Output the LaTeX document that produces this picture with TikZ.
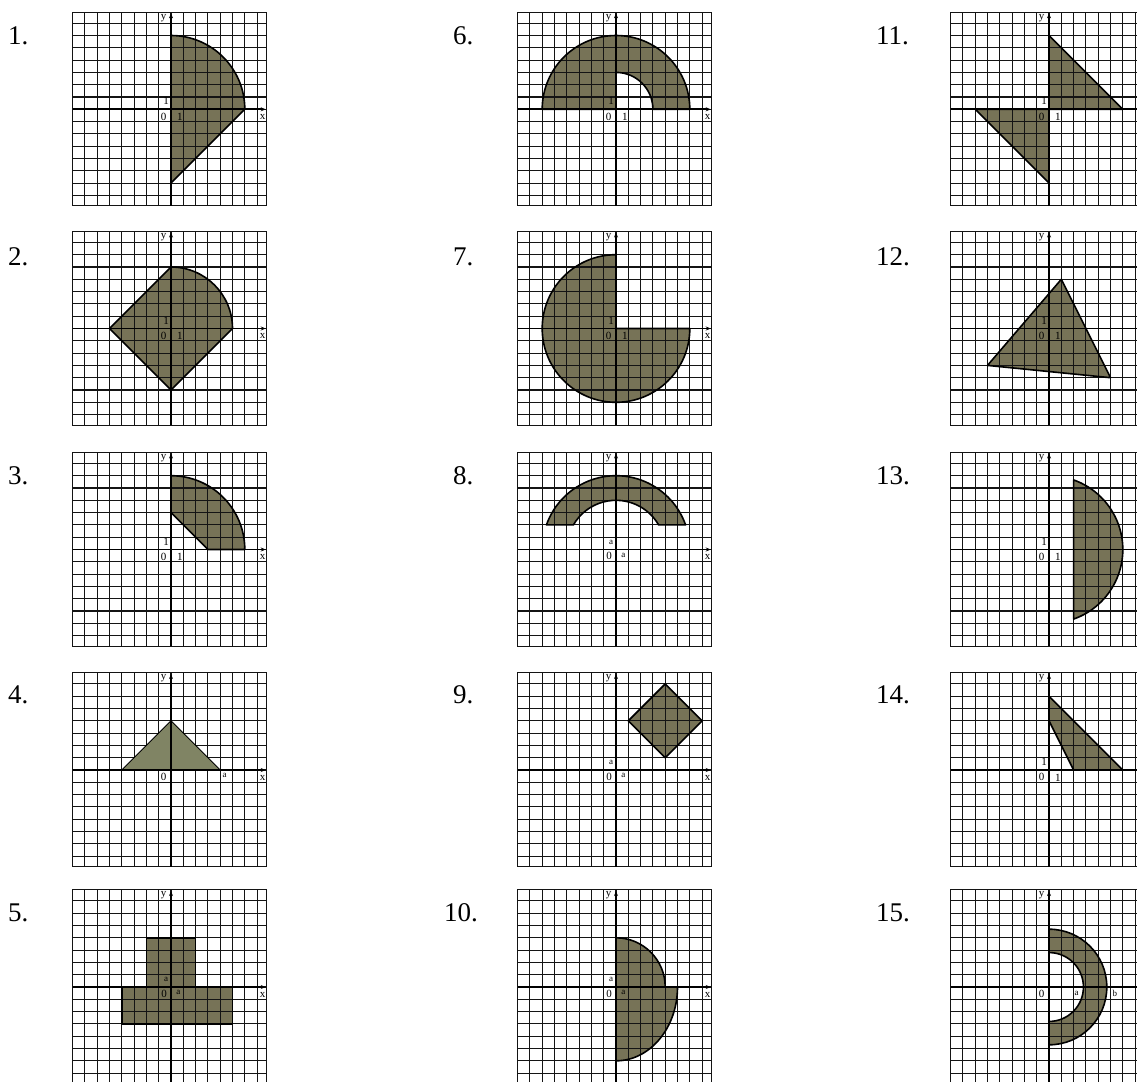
\documentclass[tikz,border=0pt]{standalone}
\usepackage{fontspec}
\setmainfont{Liberation Serif}
\usetikzlibrary{arrows.meta}
\definecolor{olivefill}{RGB}{119,115,87}
\definecolor{olivelight}{RGB}{128,132,100}
\tikzset{
  regfill/.style={fill=olivefill},
  gridline/.style={line width=1.05pt, black!92},
  axisline/.style={line width=1.9pt, black, -{Stealth[length=5pt,width=4pt]}},
  region/.style={draw=black, line width=1.6pt, line join=round},
  lab/.style={font=\fontsize{11}{11}\selectfont, inner sep=0pt},
  alab/.style={font=\fontsize{9}{9}\selectfont, inner sep=0pt},
  numlab/.style={font=\fontsize{27}{27}\selectfont, anchor=west, inner sep=0pt},
}
\newcommand\panel[5][]{%
\begin{scope}[shift={(#2pt,-#3pt)},x=12.3pt,y=12.3pt]
  \fill[regfill,#1] #4;
  \foreach \i in {-8,...,7} \draw[gridline] (\i,-7.85) -- (\i,7.9);
  \foreach \j in {-7,...,7} \draw[gridline] (-8,\j) -- (7.75,\j);
  \draw[gridline] (-8,-7.85) rectangle (7.75,7.9);
  \draw[region,#1] #4;
  \draw[axisline] (-8,0) -- (7.7,0);
  \draw[axisline] (0,-7.85) -- (0,7.8);
  \node[lab] (ylab) at (-0.6,7.45) {y};
  \node[lab] (xlab) at (7.45,-0.62) {x};
  #5
\end{scope}}
\newcommand\onelabels{%
  \node[lab] (y1) at (-0.4,0.65) {1};
  \node[lab] (o) at (-0.6,-0.6) {0};
  \node[lab] (x1) at (0.72,-0.6) {1};}
\newcommand\alabels{%
  \node[alab] (ya) at (-0.4,0.6) {a};
  \node[lab] (o) at (-0.55,-0.55) {0};
  \node[alab] (xa) at (0.6,-0.45) {a};}
\begin{document}
\begin{tikzpicture}
\useasboundingbox (0,0) rectangle (1137pt,-1081pt);
\clip (0,0) rectangle (1137pt,-1081pt);
% problem numbers
\node[numlab] (n1) at (8pt,-36pt) {1.};
\node[numlab] (n2) at (8pt,-257pt) {2.};
\node[numlab] (n3) at (8pt,-476pt) {3.};
\node[numlab] (n4) at (8pt,-695pt) {4.};
\node[numlab] (n5) at (8pt,-913pt) {5.};
\node[numlab] (n6) at (453pt,-36pt) {6.};
\node[numlab] (n7) at (453pt,-257pt) {7.};
\node[numlab] (n8) at (453pt,-476pt) {8.};
\node[numlab] (n9) at (453pt,-695pt) {9.};
\node[numlab] (n10) at (444pt,-913pt) {10.};
\node[numlab] (n11) at (876pt,-36pt) {11.};
\node[numlab] (n12) at (876pt,-257pt) {12.};
\node[numlab] (n13) at (876pt,-476pt) {13.};
\node[numlab] (n14) at (876pt,-695pt) {14.};
\node[numlab] (n15) at (876pt,-913pt) {15.};
% column 1
\panel{171}{109.3}{(0,-6) -- (0,6) arc[start angle=90,end angle=0,radius=6] -- cycle}{\onelabels}
\panel{171}{328.5}{(-5,0) -- (0,5) arc[start angle=90,end angle=0,radius=5] -- (0,-5) -- cycle}{\onelabels}
\panel{171}{549.5}{(0,3) -- (0,6) arc[start angle=90,end angle=0,radius=6] -- (3,0) -- cycle}{\onelabels}
\panel[fill=olivelight,line width=0.8pt]{171}{770}{(-4,0) -- (0,4) -- (4,0) -- cycle}{%
  \node[lab] (o) at (-0.6,-0.6) {0};
  \node[alab] (xa) at (4.35,-0.45) {a};}
\panel{171}{987}{(-2,0) -- (-2,4) -- (2,4) -- (2,0) -- (5,0) -- (5,-3) -- (-4,-3) -- (-4,0) -- cycle}{\alabels}
% column 2
\panel{616}{109.3}{(-6,0) arc[start angle=180,end angle=0,radius=6] -- (3,0) arc[start angle=0,end angle=90,radius=3] -- (0,0) -- cycle}{\onelabels}
\panel{616}{328.5}{(0,0) -- (0,6) arc[start angle=90,end angle=360,radius=6] -- cycle}{\onelabels}
\panel{616}{549.5}{(5.657,2) arc[start angle=19.47,end angle=160.53,radius=6] -- (-3.464,2) arc[start angle=150,end angle=30,radius=4] -- cycle}{\alabels}
\panel{616}{770}{(4,7) -- (7,4) -- (4,1) -- (1,4) -- cycle}{\alabels}
\panel{616}{987}{(0,-6) -- (0,4) arc[start angle=90,end angle=0,radius=4] -- (5,0) arc[start angle=0,end angle=-90,x radius=5,y radius=6] -- cycle}{\alabels}
% column 3
\panel{1049}{109.3}{(0,0) -- (0,6) -- (6,0) -- cycle (0,0) -- (-6,0) -- (0,-6) -- cycle}{\onelabels}
\panel{1049}{328.5}{(1,4) -- (5,-4) -- (-5,-3) -- cycle}{\onelabels}
\panel{1049}{549.5}{(2,-5.657) arc[start angle=-70.53,end angle=70.53,radius=6] -- cycle}{\onelabels}
\panel{1049}{770}{(0,4) -- (0,6) -- (6,0) -- (2,0) -- cycle}{\onelabels}
\panel{1049}{987}{(0,-4.7) arc[start angle=-90,end angle=90,radius=4.7] -- (0,2.8) arc[start angle=90,end angle=-90,radius=2.8] -- cycle}{%
  \node[lab] (o) at (-0.6,-0.6) {0};
  \node[alab] (xa) at (2.25,-0.5) {a};
  \node[alab] (xb) at (5.35,-0.5) {b};}
\end{tikzpicture}
\end{document}
